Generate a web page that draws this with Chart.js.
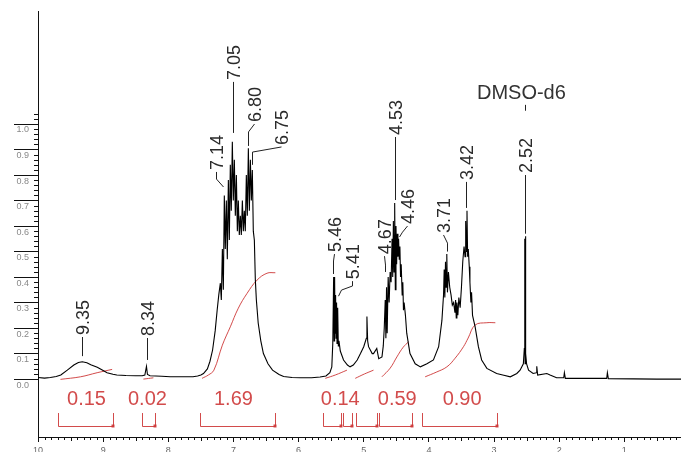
<!DOCTYPE html>
<html>
<head>
<meta charset="utf-8">
<script src="https://cdn.jsdelivr.net/npm/chart.js@4.4.0/dist/chart.umd.min.js"></script>
<style>
  html, body { margin: 0; padding: 0; background: #fff; }
</style>
</head>
<body>
<canvas id="nmr" width="681" height="452"></canvas>
<script>
// 1H NMR trace: chemical shift (ppm) and intensity
// (multiplets are traced as their upper / lower edges so they fill in like the original)
const shiftPpm = [
  10.00, 9.90, 9.81, 9.72, 9.65, 9.55, 9.45, 9.38, 9.32, 9.25, 9.19, 9.09, 9.00, 8.94, 8.85, 8.79,
  8.65, 8.50, 8.40, 8.36, 8.335, 8.32, 8.28, 8.10, 7.97, 7.80, 7.62, 7.55, 7.50, 7.46, 7.40, 7.36,
  7.32, 7.28, 7.25, 7.225,
  7.201, 7.186, 7.170, 7.155, 7.140, 7.125, 7.109, 7.094, 7.078, 7.063, 7.048, 7.033, 7.017, 7.002,
  6.986, 6.971, 6.955, 6.940, 6.925, 6.910, 6.894, 6.879, 6.863, 6.848, 6.833, 6.818, 6.802, 6.787,
  6.771, 6.756, 6.740, 6.725, 6.710, 6.695, 6.679, 6.664, 6.648,
  6.62, 6.58, 6.54, 6.47, 6.40, 6.30, 6.23, 6.10, 5.97, 5.80, 5.67, 5.58, 5.52, 5.49, 5.475,
  5.462, 5.455, 5.447, 5.44, 5.432, 5.425, 5.417, 5.41, 5.40, 5.39, 5.38, 5.36, 5.31, 5.25, 5.21, 5.16,
  5.10, 5.05, 5.00, 4.96, 4.951, 4.94, 4.926, 4.87, 4.85, 4.80, 4.77, 4.72,
  4.70, 4.685, 4.67, 4.66, 4.65, 4.64, 4.625, 4.61, 4.595, 4.58, 4.565, 4.555, 4.545, 4.535, 4.525, 4.515,
  4.505, 4.495, 4.485, 4.475, 4.465, 4.455, 4.445, 4.435, 4.425, 4.41, 4.40, 4.39, 4.38, 4.36, 4.34, 4.29,
  4.21, 4.13, 4.03, 3.93, 3.85, 3.80, 3.775, 3.765, 3.755, 3.745, 3.735, 3.725, 3.715, 3.70, 3.68, 3.66,
  3.64, 3.62, 3.60, 3.59, 3.58, 3.57, 3.555, 3.54, 3.52, 3.50, 3.48, 3.46, 3.445, 3.435, 3.425, 3.415,
  3.405, 3.395, 3.38, 3.37, 3.355, 3.345, 3.33, 3.29, 3.24, 3.19, 3.11, 2.96, 2.85, 2.75, 2.65, 2.60,
  2.55, 2.535, 2.528, 2.523, 2.518, 2.512, 2.50, 2.47, 2.40, 2.35, 2.344, 2.33, 2.19, 2.14, 2.04, 1.93,
  1.92, 1.905, 1.63, 1.27, 1.26, 1.245, 0.86, 0.50, 0.13
];
const intensity = [
  0.006, 0.004, 0.006, 0.010, 0.016, 0.035, 0.055, 0.065, 0.068, 0.064, 0.056, 0.046, 0.034, 0.025, 0.019, 0.016,
  0.014, 0.013, 0.013, 0.016, 0.050, 0.018, 0.013, 0.011, 0.009, 0.009, 0.009, 0.012, 0.016, 0.022, 0.040, 0.070,
  0.114, 0.19, 0.27, 0.33,
  0.376, 0.31, 0.51, 0.35, 0.72, 0.51, 0.70, 0.47, 0.78, 0.545, 0.84, 0.66, 0.93, 0.70,
  0.86, 0.64, 0.80, 0.58, 0.70, 0.565, 0.64, 0.565, 0.70, 0.58, 0.66, 0.58, 0.80, 0.64,
  0.905, 0.66, 0.86, 0.70, 0.82, 0.58, 0.545, 0.39, 0.31,
  0.22, 0.15, 0.10, 0.06, 0.035, 0.018, 0.010, 0.006, 0.005, 0.005, 0.008, 0.012, 0.025, 0.048, 0.14,
  0.40, 0.15, 0.40, 0.18, 0.33, 0.16, 0.30, 0.14, 0.28, 0.13, 0.15, 0.11, 0.075, 0.055, 0.048, 0.055,
  0.075, 0.10, 0.127, 0.16, 0.245, 0.15, 0.127, 0.10, 0.10, 0.12, 0.08, 0.087,
  0.13, 0.20, 0.31, 0.16, 0.36, 0.18, 0.40, 0.30, 0.42, 0.38, 0.55, 0.40, 0.62, 0.42, 0.69, 0.35,
  0.60, 0.45, 0.57, 0.48, 0.55, 0.47, 0.52, 0.40, 0.45, 0.33, 0.38, 0.27, 0.30, 0.25, 0.18, 0.10,
  0.06, 0.048, 0.06, 0.075, 0.127, 0.23, 0.33, 0.43, 0.32, 0.46, 0.36, 0.49, 0.34, 0.42, 0.36, 0.33,
  0.29, 0.30, 0.26, 0.31, 0.24, 0.30, 0.25, 0.32, 0.28, 0.36, 0.46, 0.52, 0.48, 0.62, 0.50, 0.66,
  0.48, 0.51, 0.44, 0.38, 0.30, 0.34, 0.25, 0.205, 0.127, 0.075, 0.042, 0.022, 0.015, 0.009, 0.022, 0.035,
  0.06, 0.12, 0.55, 0.06, 0.56, 0.10, 0.06, 0.035, 0.022, 0.025, 0.05, 0.016, 0.022, 0.016, 0.005, 0.005,
  0.025, 0.003, 0.003, 0.003, 0.025, 0.002, 0.001, 0.000, 0.000
];

// integral traces (ppm, running integral on the plot's intensity scale)
const integral015 = [[9.655, -0.001], [9.348, 0.009], [9.092, 0.025], [8.862, 0.038]];
const integral002 = [[8.382, 0.000], [8.229, 0.005]];
const integral169 = [[7.482, 0.003], [7.385, 0.016], [7.30, 0.035], [7.17, 0.133], [7.048, 0.205],
  [6.925, 0.278], [6.791, 0.336], [6.638, 0.388], [6.485, 0.415], [6.357, 0.417]];
const integral014 = [[5.59, 0.003], [5.437, 0.016], [5.258, 0.035]];
const integral014b = [[5.13, 0.003], [4.99, 0.020], [4.85, 0.035]];
const integral059 = [[4.721, 0.009], [4.594, 0.043], [4.491, 0.087], [4.394, 0.125], [4.313, 0.146]];
const integral090 = [[4.057, 0.009], [3.888, 0.027], [3.724, 0.048], [3.597, 0.082], [3.469, 0.127],
  [3.397, 0.161], [3.29, 0.212], [3.11, 0.221], [2.98, 0.221]];

// integral values and the ranges of their brackets (ppm)
const integralText = ['0.15', '0.02', '1.69', '0.14', '0.59', '0.90'];
const integralTextPpm = [9.256, 8.32, 7.0, 5.36, 4.486, 3.49];
const bracketRanges = [[9.686, 8.842], [8.397, 8.198], [7.508, 6.357], [5.621, 5.345], [5.314, 5.176],
  [5.115, 4.793], [4.762, 4.256], [4.103, 2.953]];

// peak picks
const peakText = ['9.35', '8.34', '7.14', '7.05', '6.80', '6.75', '5.46', '5.41', '4.67', '4.53', '4.46', '3.71', '3.42', '2.52'];

// label layout: leader polyline from label foot down to the peak (ppm, intensity)
const peakLeaders = [
  [[9.318, 0.165], [9.318, 0.090]],
  [[8.321, 0.161], [8.321, 0.075]],
  [[7.262, 0.812], [7.262, 0.784], [7.155, 0.753]],
  [[7.002, 1.165], [7.002, 0.965]],
  [[6.679, 1.000], [6.772, 0.969], [6.772, 0.914]],
  [[6.265, 0.910], [6.710, 0.890], [6.710, 0.840]],
  [[5.452, 0.490], [5.470, 0.463], [5.470, 0.412]],
  [[5.176, 0.384], [5.176, 0.365], [5.345, 0.349], [5.391, 0.325]],
  [[4.686, 0.482], [4.670, 0.447], [4.670, 0.420]],
  [[4.517, 0.949], [4.517, 0.702]],
  [[4.333, 0.600], [4.410, 0.576], [4.456, 0.557]],
  [[3.781, 0.565], [3.725, 0.533], [3.725, 0.500]],
  [[3.428, 0.773], [3.428, 0.671]],
  [[2.523, 0.800], [2.523, 0.570]]
];

const xTicks = [1, 2, 3, 4, 5, 6, 7, 8, 9, 10];
const yTicks = [0, 0.1, 0.2, 0.3, 0.4, 0.5, 0.6, 0.7, 0.8, 0.9, 1.0];

const RED = 'rgba(205, 55, 55, 0.9)';
const FONT = 'Liberation Sans, Arial, sans-serif';

const toXY = arr => arr.map(p => ({ x: p[0], y: p[1] }));
const spectrum = shiftPpm.map((p, i) => ({ x: p, y: intensity[i] }));

const integralSet = data => ({
  data: toXY(data),
  borderColor: RED,
  borderWidth: 1,
  pointRadius: 0,
  tension: 0.4
});

// minor tick marks on both axes
const minorTicks = {
  id: 'minorTicks',
  afterDraw(chart) {
    const { ctx, scales: { x, y }, chartArea } = chart;
    ctx.save();
    ctx.strokeStyle = '#111';
    ctx.lineWidth = 1;
    ctx.beginPath();
    for (let i = 2; i <= 100; i++) {
      if (i % 10 === 0) continue;
      const px = Math.round(x.getPixelForValue(i / 10)) + 0.5;
      const len = i % 5 === 0 ? 4 : 3;
      ctx.moveTo(px, chartArea.bottom);
      ctx.lineTo(px, chartArea.bottom + len);
    }
    for (let i = 0; i <= 52; i++) {
      if (i % 5 === 0 && i <= 50) continue;
      const py = Math.round(y.getPixelForValue(i / 50)) + 0.5;
      ctx.moveTo(chartArea.left - 4, py);
      ctx.lineTo(chartArea.left, py);
    }
    ctx.stroke();
    ctx.restore();
  }
};

// peak picks, solvent tag, integral brackets and values
const annotations = {
  id: 'annotations',
  afterDatasetsDraw(chart) {
    const { ctx, scales: { x, y } } = chart;
    ctx.save();

    // peak leaders and rotated labels
    ctx.strokeStyle = '#222';
    ctx.fillStyle = '#2a2a2a';
    ctx.lineWidth = 1;
    ctx.font = '18px ' + FONT;
    peakLeaders.forEach((pts, i) => {
      ctx.beginPath();
      pts.forEach((p, j) => {
        const px = Math.round(x.getPixelForValue(p[0])) + 0.5;
        const py = y.getPixelForValue(p[1]);
        j ? ctx.lineTo(px, py) : ctx.moveTo(px, py);
      });
      ctx.stroke();
      const fx = x.getPixelForValue(pts[0][0]);
      const fy = y.getPixelForValue(pts[0][1]);
      ctx.save();
      ctx.translate(fx + 2, fy - 2);
      ctx.rotate(-Math.PI / 2);
      ctx.textAlign = 'left';
      ctx.textBaseline = 'middle';
      ctx.fillText(peakText[i], 0, 0);
      ctx.restore();
    });

    // solvent
    ctx.font = '20px ' + FONT;
    ctx.fillStyle = '#333';
    ctx.textAlign = 'center';
    ctx.textBaseline = 'alphabetic';
    ctx.fillText('DMSO-d6', x.getPixelForValue(2.58), y.getPixelForValue(1.098));
    ctx.beginPath();
    const sx = Math.round(x.getPixelForValue(2.523)) + 0.5;
    ctx.moveTo(sx, y.getPixelForValue(1.075));
    ctx.lineTo(sx, y.getPixelForValue(1.052));
    ctx.stroke();

    // integral brackets
    ctx.strokeStyle = RED;
    ctx.fillStyle = RED;
    const top = y.getPixelForValue(-0.133);
    const bot = Math.round(y.getPixelForValue(-0.184)) + 0.5;
    bracketRanges.forEach(r => {
      const xa = Math.round(x.getPixelForValue(r[0])) + 0.5;
      const xb = Math.round(x.getPixelForValue(r[1])) + 0.5;
      ctx.beginPath();
      ctx.moveTo(xa, top);
      ctx.lineTo(xa, bot);
      ctx.lineTo(xb, bot);
      ctx.lineTo(xb, top);
      ctx.stroke();
      ctx.fillRect(xb - 2, bot - 2, 3, 3);
    });

    // integral values
    ctx.font = '20px ' + FONT;
    ctx.textAlign = 'center';
    ctx.textBaseline = 'middle';
    integralText.forEach((t, i) => {
      ctx.fillText(t, x.getPixelForValue(integralTextPpm[i]), y.getPixelForValue(-0.078));
    });
    ctx.restore();
  }
};

const ctx = document.getElementById('nmr').getContext('2d');
new Chart(ctx, {
  type: 'line',
  data: {
    datasets: [
      { data: spectrum, borderColor: '#000', borderWidth: 1.1, pointRadius: 0, tension: 0 },
      integralSet(integral015),
      integralSet(integral002),
      integralSet(integral169),
      integralSet(integral014),
      integralSet(integral014b),
      integralSet(integral059),
      integralSet(integral090)
    ]
  },
  options: {
    responsive: false,
    animation: false,
    layout: { padding: { top: 11, right: 0, left: 0, bottom: 0 } },
    plugins: { legend: { display: false }, tooltip: { enabled: false } },
    scales: {
      x: {
        type: 'linear',
        reverse: true,
        min: 0.13,
        max: 10,
        afterBuildTicks: s => { s.ticks = xTicks.map(v => ({ value: v })); },
        afterFit: s => { s.height = 15; },
        grid: { drawOnChartArea: false, tickLength: 5, color: '#111' },
        border: { color: '#111', width: 1 },
        ticks: {
          padding: 3,
          maxRotation: 0,
          autoSkip: false,
          color: '#666',
          font: { family: FONT, size: 9 },
          callback: v => String(v)
        }
      },
      y: {
        min: -0.227,
        max: 1.443,
        afterBuildTicks: s => { s.ticks = yTicks.map(v => ({ value: v })); },
        afterFit: s => { s.width = 38; },
        grid: { drawOnChartArea: false, tickLength: 24, color: '#111' },
        border: { color: '#111', width: 1 },
        ticks: {
          padding: -15,
          labelOffset: 6,
          color: '#888',
          font: { family: FONT, size: 9 },
          callback: v => v.toFixed(1)
        }
      }
    }
  },
  plugins: [minorTicks, annotations]
});
</script>
</body>
</html>
